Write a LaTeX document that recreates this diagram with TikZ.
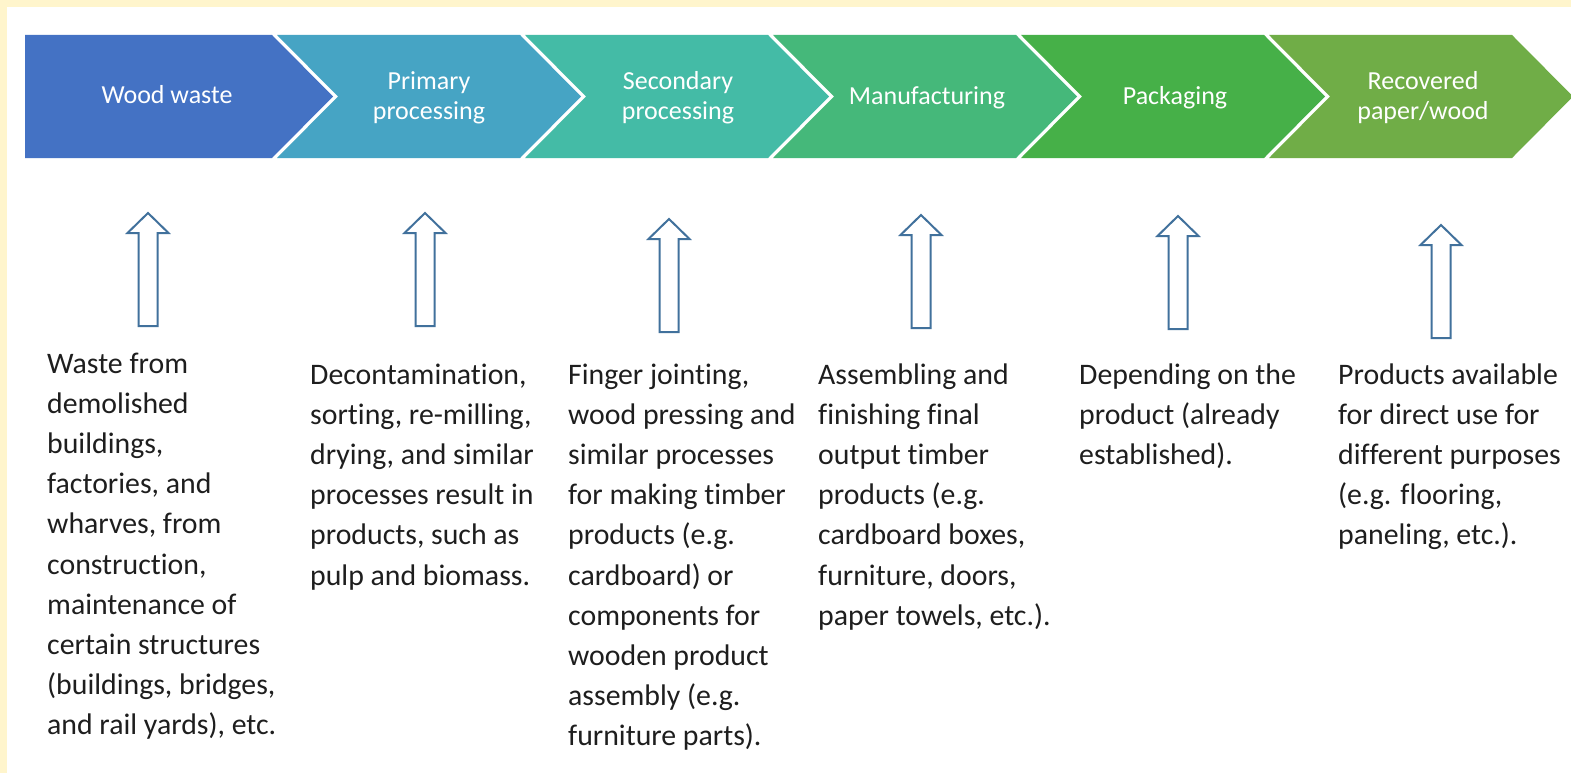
\documentclass[tikz,border=0pt]{standalone}
\usepackage{fontspec}
\setmainfont{Carlito}[Ligatures={NoCommon}]
\definecolor{bgyellow}{HTML}{FFF5CC}
\definecolor{cA}{HTML}{4472C4}
\definecolor{cB}{HTML}{46A4C4}
\definecolor{cC}{HTML}{44BBA6}
\definecolor{cD}{HTML}{45B87A}
\definecolor{cE}{HTML}{46B048}
\definecolor{cF}{HTML}{70AD47}
\definecolor{arrowblue}{HTML}{41719C}
\definecolor{txt}{HTML}{1E1E1E}
\tikzset{
  head/.style={text=white, align=center, inner sep=0pt, font=\fontsize{26}{30}\selectfont},
  desc/.style={text=txt, anchor=base west, inner sep=0pt, font=\fontsize{29.8}{40.2}\selectfont},
  uparr/.pic={\draw[arrowblue, fill=white, line width=2pt, line join=miter]
    (0,1) -- (20.5,21) -- (9.5,21) -- (9.5,114) -- (-9.5,114) -- (-9.5,21) -- (-20.5,21) -- cycle;}
}
\begin{document}
\begin{tikzpicture}[x=1pt,y=-1pt]
\useasboundingbox (0,0) rectangle (1571,773);
\fill[bgyellow] (0,0) rectangle (1571,773);
\fill[white] (7,7) rectangle (1571,773);
% chevrons
\fill[cA] (25,35) -- (272,35) -- (333,96.5) -- (272,158) -- (25,158) -- cycle;
\foreach \L/\R/\c in {277/520/cB, 525/768/cC, 773/1016/cD, 1021/1264/cE, 1269/1512/cF}{
  \fill[\c] (\L,35) -- (\R,35) -- (\R+61,96.5) -- (\R,158) -- (\L,158) -- (\L+61,96.5) -- cycle;
}
% headers
\node[head] (h1) at (167,95) {Wood waste};
\node[head] (h2) at (429,98) {Primary\\processing};
\node[head] (h3) at (678,98) {Secondary\\processing};
\node[head] (h4) at (927,97.5) {Manufacturing};
\node[head] (h5) at (1175,97.5) {Packaging};
\node[head] (h6) at (1423,98) {Recovered\\paper/wood};
% arrows
\pic at (148,212) {uparr};
\pic at (425,212) {uparr};
\pic at (669,218) {uparr};
\pic at (921,214) {uparr};
\pic at (1178,215) {uparr};
\pic at (1441,224) {uparr};
% descriptions
\node[desc] (d1) at (47,373) {\parbox[t]{260pt}{\raggedright Waste from\\demolished\\buildings,\\factories, and\\wharves, from\\construction,\\maintenance of\\certain structures\\(buildings, bridges,\\and rail yards), etc.}};
\node[desc] (d2) at (310,384) {\parbox[t]{260pt}{\raggedright Decontamination,\\sorting, re-milling,\\drying, and similar\\processes result in\\products, such as\\pulp and biomass.}};
\node[desc] (d3) at (568,384) {\parbox[t]{260pt}{\raggedright Finger jointing,\\wood pressing and\\similar processes\\for making timber\\products (e.g.\\cardboard) or\\components for\\wooden product\\assembly (e.g.\\furniture parts).}};
\node[desc] (d4) at (818,384) {\parbox[t]{260pt}{\raggedright Assembling and\\finishing final\\output timber\\products (e.g.\\cardboard boxes,\\furniture, doors,\\paper towels, etc.).}};
\node[desc] (d5) at (1079,384) {\parbox[t]{260pt}{\raggedright Depending on the\\product (already\\established).}};
\node[desc] (d6) at (1338,384) {\parbox[t]{230pt}{\raggedright Products available\\for direct use for\\different purposes\\(e.g. flooring,\\paneling, etc.).}};
\end{tikzpicture}
\end{document}
